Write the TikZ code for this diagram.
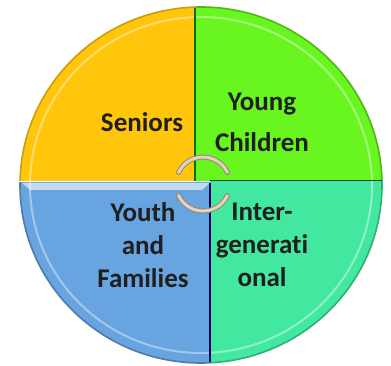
\documentclass[tikz,border=0pt]{standalone}
\usepackage{fontspec}
\setmainfont{Carlito}[Ligatures=NoCommon]
\definecolor{seniorfill}{RGB}{255,198,12}
\definecolor{youngfill}{RGB}{104,245,32}
\definecolor{youthfill}{RGB}{104,164,224}
\definecolor{interfill}{RGB}{66,232,160}
\definecolor{ringfill}{RGB}{226,212,190}
\definecolor{ringdraw}{RGB}{150,135,115}
\tikzset{
  lbl/.style={font=\bfseries\fontsize{27}{33}\selectfont,text=black!88,align=center},
  rim/.style={line width=1.6pt,draw=#1},
  shine/.style={line width=2pt,draw=white,opacity=0.4},
  turn/.style={line width=5pt,draw=ringdraw,line cap=round},
  turnin/.style={line width=3pt,draw=ringfill,line cap=round}
}
\begin{document}
\begin{tikzpicture}[x=1pt,y=-1pt]
\useasboundingbox (0,0) rectangle (391,366);
\fill[white] (0,0) rectangle (391,366);

% seniors quarter
\begin{scope}
\clip (195,181) rectangle (0,0);
\fill[seniorfill] (201,185) ellipse [x radius=181, y radius=178];
\draw[rim=seniorfill!80!black] (201,185) ellipse [x radius=181, y radius=178];
\draw[shine] (201,185) ellipse [x radius=171, y radius=168];
\end{scope}

% young children quarter
\begin{scope}
\clip (195,181) rectangle (391,0);
\fill[youngfill] (201,185) ellipse [x radius=181, y radius=178];
\draw[rim=youngfill!75!black] (201,185) ellipse [x radius=181, y radius=178];
\draw[shine] (201,185) ellipse [x radius=171, y radius=168];
\end{scope}

% youth and families quarter
\begin{scope}
\clip (210,183) rectangle (0,366);
\fill[youthfill] (201,185) ellipse [x radius=181, y radius=178];
\draw[rim=youthfill!75!black] (201,185) ellipse [x radius=181, y radius=178];
\draw[shine] (201,185) ellipse [x radius=171, y radius=168];
\fill[white,opacity=0.6] (22,183) -- (210,183) -- (202,190) -- (30,190) -- cycle;
\end{scope}

% intergenerational quarter
\begin{scope}
\clip (210,181) rectangle (391,366);
\fill[interfill] (201,185) ellipse [x radius=181, y radius=178];
\draw[rim=interfill!75!black] (201,185) ellipse [x radius=181, y radius=178];
\draw[shine] (201,185) ellipse [x radius=171, y radius=168];
\end{scope}

% dividers
\draw[green!45!black,line width=1.2pt] (195,8) -- (195,181);
\draw[teal!60!black,line width=1pt] (210,181) -- (382,181);
\draw[blue!40!black,line width=1.2pt] (210,183) -- (210,362);

% turning arrows
\draw[turn] (203,184) ++(155:27) arc[start angle=155, end angle=25, radius=27];
\draw[turnin] (203,184) ++(155:27) arc[start angle=155, end angle=25, radius=27];
\draw[turn] (203,184) ++(205:27) arc[start angle=205, end angle=335, radius=27];
\draw[turnin] (203,184) ++(205:27) arc[start angle=205, end angle=335, radius=27];

\node[lbl] (seniors) at (142,122) {Seniors};
\node[lbl] (young) at (262,122) {Young\\[8pt]Children};
\node[lbl] (youth) at (143,245) {Youth\\and\\Families};
\node[lbl] (inter) at (262,245) {Inter-\\generati\\onal};
\end{tikzpicture}
\end{document}
